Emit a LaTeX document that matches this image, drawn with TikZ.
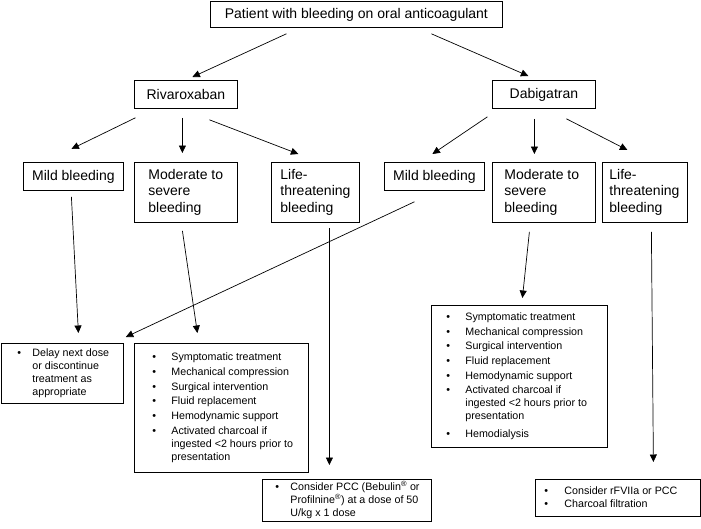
\documentclass[tikz,border=0pt]{standalone}
\usepackage{fontspec}
\setmainfont{Liberation Sans}
\usepackage{tikz}
\usetikzlibrary{arrows.meta}
\newcommand{\bigtext}{\fontsize{14}{16.5}\selectfont}
\newcommand{\smalltext}{\fontsize{10.7}{13}\selectfont}
\newcommand{\boxtext}[3]{\makebox[#1][l]{\hspace*{#2}#3}}

\begin{document}
\begin{tikzpicture}[x=1pt,y=-1pt,>={Triangle[length=7.5pt,width=7pt]},
  box/.style={draw,line width=0.8pt,inner sep=0pt,anchor=north west,font=\bigtext},
  list box/.style={box,font=\smalltext},
  arr/.style={->,line width=0.7pt}]
  \useasboundingbox (0,0) rectangle (701,528);

  \node[box,minimum width=292pt,minimum height=26pt] (top) at (210,1) {Patient with bleeding on oral anticoagulant};
  \node[box,minimum width=103pt,minimum height=28pt] (riva) at (134,80) {Rivaroxaban};
  \node[box,minimum width=103pt,minimum height=28pt] (dabi) at (492,80) {Dabigatran};

  \node[box,minimum width=100pt,minimum height=28pt] (mildL) at (23,162) {Mild bleeding};
  \node[box,minimum height=60pt] (modL) at (134,162)
    {\boxtext{103pt}{14pt}{\begin{tabular}{@{}l@{}}Moderate to\\severe\\bleeding\end{tabular}}};
  \node[box,minimum height=60pt] (lifeL) at (271,162)
    {\boxtext{88pt}{9pt}{\begin{tabular}{@{}l@{}}Life-\\threatening\\bleeding\end{tabular}}};
  \node[box,minimum width=100pt,minimum height=28pt] (mildR) at (384,162) {Mild bleeding};
  \node[box,minimum height=60pt] (modR) at (492,162)
    {\boxtext{103pt}{12pt}{\begin{tabular}{@{}l@{}}Moderate to\\severe\\bleeding\end{tabular}}};
  \node[box,minimum height=60pt] (lifeR) at (602,162)
    {\boxtext{85pt}{7pt}{\begin{tabular}{@{}l@{}}Life-\\threatening\\bleeding\end{tabular}}};

  \node[list box,minimum height=60pt] (delay) at (1,343)
    {\boxtext{122pt}{16pt}{\begin{tabular}{@{}p{15pt}@{}l@{}}
      \textbullet & Delay next dose\\ & or discontinue\\ & treatment as\\ & appropriate
    \end{tabular}}};
  \node[list box,minimum height=129pt] (treatL) at (134,343)
    {\boxtext{174pt}{18pt}{\begin{tabular}{@{}p{19pt}@{}l@{}}
      \textbullet & Symptomatic treatment\\[1.8pt]
      \textbullet & Mechanical compression\\[1.8pt]
      \textbullet & Surgical intervention\\[1.8pt]
      \textbullet & Fluid replacement\\[1.8pt]
      \textbullet & Hemodynamic support\\[1.8pt]
      \textbullet & Activated charcoal if\\ & ingested <2 hours prior to\\ & presentation
    \end{tabular}}};
  \node[list box,minimum height=142pt] (treatR) at (431,305)
    {\boxtext{176pt}{15pt}{\begin{tabular}{@{}p{19pt}@{}l@{}}
      \textbullet & Symptomatic treatment\\[1.6pt]
      \textbullet & Mechanical compression\\[1.6pt]
      \textbullet & Surgical intervention\\[1.6pt]
      \textbullet & Fluid replacement\\[1.6pt]
      \textbullet & Hemodynamic support\\[1.6pt]
      \textbullet & Activated charcoal if\\ & ingested <2 hours prior to\\ & presentation\\[4.6pt]
      \textbullet & Hemodialysis
    \end{tabular}}};
  \node[list box,minimum height=42pt] (pcc) at (262,479)
    {\boxtext{169pt}{13pt}{\begin{tabular}{@{}p{15pt}@{}l@{}}
      \textbullet & Consider PCC (Bebulin\textsuperscript{\textregistered} or\\
      & Profilnine\textsuperscript{\textregistered}) at a dose of 50\\ & U/kg x 1 dose
    \end{tabular}}};
  \node[list box,minimum height=37pt] (rfv) at (535,479)
    {\boxtext{165pt}{9pt}{\begin{tabular}{@{}p{20pt}@{}l@{}}
      \textbullet & Consider rFVIIa or PCC\\ \textbullet & Charcoal filtration
    \end{tabular}}};

  \path[arr]
    ([xshift=-70pt,yshift=-6pt]top.south) edge ([xshift=6.5pt,yshift=3pt]riva.north)
    ([xshift=75pt,yshift=-6pt]top.south) edge ([xshift=-15.5pt,yshift=4pt]dabi.north)
    ([xshift=-50.5pt,yshift=-9pt]riva.south) edge ([xshift=-2pt,yshift=13pt]mildL.north)
    ([xshift=-3.5pt,yshift=-9pt]riva.south) edge ([xshift=-3.5pt,yshift=9pt]modL.north)
    ([xshift=23.5pt,yshift=-11pt]riva.south) edge ([xshift=-17pt,yshift=8pt]lifeL.north)
    ([xshift=-56.5pt,yshift=-8pt]dabi.south) edge ([xshift=-2pt,yshift=8pt]mildR.north)
    ([xshift=-9.5pt,yshift=-10pt]dabi.south) edge ([xshift=-9.5pt,yshift=8pt]modR.north)
    ([xshift=22.5pt,yshift=-10pt]dabi.south) edge ([xshift=-17.5pt,yshift=12pt]lifeR.north)
    ([xshift=-2pt,yshift=-6pt]mildL.south) edge ([xshift=16pt,yshift=10pt]delay.north)
    ([xshift=-20pt,yshift=-11pt]mildR.south) edge ([xshift=2pt,yshift=6pt]delay.north east)
    ([xshift=-3.5pt,yshift=-8pt]modL.south) edge ([xshift=-24pt,yshift=10pt]treatL.north)
    ([xshift=14pt,yshift=-5pt]lifeL.south) edge ([xshift=-17.5pt,yshift=14pt]pcc.north)
    ([xshift=-14.5pt,yshift=-9pt]modR.south) edge ([xshift=3pt,yshift=7pt]treatR.north)
    ([xshift=6.5pt,yshift=-9pt]lifeR.south) edge ([xshift=35.5pt,yshift=17pt]rfv.north);
\end{tikzpicture}
\end{document}
